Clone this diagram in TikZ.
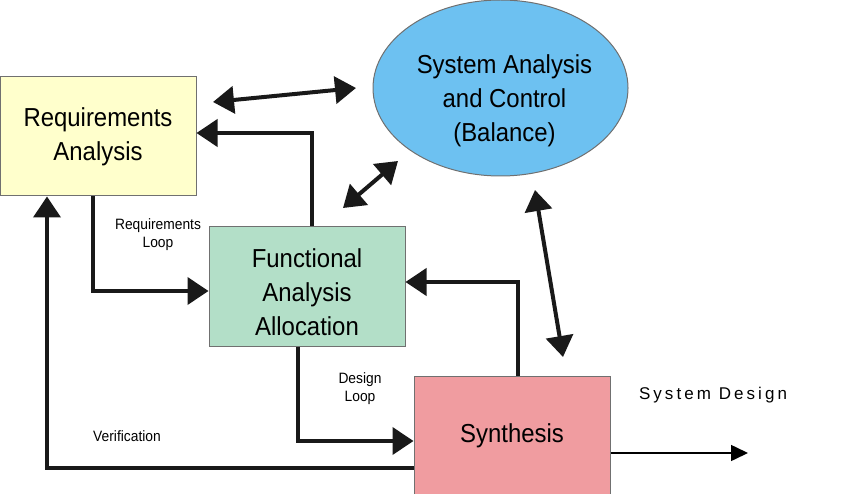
\documentclass[tikz,border=0pt]{standalone}
\usepackage{fontspec}
\setmainfont{Liberation Sans}[FakeStretch=0.92]
\newfontfamily\sdfont{Liberation Sans}[LetterSpace=18]
\usetikzlibrary{arrows.meta,shapes.geometric}

\definecolor{reqcol}{HTML}{FFFFCC}
\definecolor{facol}{HTML}{B3DFC8}
\definecolor{sycol}{HTML}{F09CA0}
\definecolor{sacol}{HTML}{6DC1F1}
\definecolor{edgecol}{HTML}{707070}

\tikzset{
    box/.style={rectangle, draw=edgecol, line width=1pt, minimum width=196pt, minimum height=120pt, inner sep=0pt},
    bigtext/.style={align=center, font=\fontsize{26}{34}\selectfont},
    smalltext/.style={align=center, font=\fontsize{15}{18}\selectfont},
    flow/.style={line width=4pt, color=black!90, -{Triangle[length=21pt, width=27pt]}},
    dbl/.style={line width=4pt, color=black!90, {Triangle[length=21pt, width=27pt]}-{Triangle[length=21pt, width=27pt]}},
    outflow/.style={line width=1.5pt, -{Triangle[length=17pt, width=16pt]}}
}

\begin{document}
\begin{tikzpicture}[x=1pt, y=-1pt]

            \useasboundingbox (0,0) rectangle (850,494);

            % Define the four blocks of the loop
            \node[box, fill=reqcol, minimum height=119pt, bigtext] (req) at (98,136.5) {Requirements\\Analysis};
            \node[box, fill=facol] (func) at (307,286) {};
            \node[bigtext] (functext) at (307,292) {Functional\\Analysis\\Allocation};
            \node[box, fill=sycol, bigtext] (synth) at (512,436) {Synthesis};

            \node[ellipse, draw=edgecol, line width=1pt, fill=sacol, minimum width=255pt, minimum height=176pt] (sac) at (500.5,88) {};
            \node[bigtext] (sactext) at (504.5,101) {System Analysis\\and Control\\(Balance)};

            % Free ends of the balance arrows
            \coordinate (ra1) at (213,102);
            \coordinate (ra2) at (356,88);
            \coordinate (fa1) at (343,208);
            \coordinate (fa2) at (398,161);
            \coordinate (sa1) at (535,190);
            \coordinate (sa2) at (563,357);
            \coordinate (out) at (748,453);

    % Draw the loops between the blocks
    \draw[flow] (req.south -| 93,0) |- (func.west |- 0,291);
    \draw[flow] (func.north -| 312,0) |- (req.east |- 0,133);
    \draw[flow] (func.south -| 298,0) |- (synth.west |- 0,441);
    \draw[flow] (synth.north -| 518,0) |- (func.east |- 0,282);
    \draw[flow] (synth.west |- 0,468) -| (req.south -| 47,0);

    % Draw the balance arrows to the ellipse
    \draw[dbl] (ra1) -- (ra2);
    \draw[dbl] (fa1) -- (fa2);
    \draw[dbl] (sa1) -- (sa2);

    \draw[outflow] (synth.east |- out) -- (out);

    % Loop labels
    \node[smalltext] (reqloop) at (158,235) {Requirements\\Loop};
    \node[smalltext] (desloop) at (360,389) {Design\\Loop};
    \node[smalltext] (verif) at (127,436) {Verification};
    \node[font=\fontsize{17}{20}\sdfont] (sysdes) at (713,395) {System Design};

        \end{tikzpicture}
\end{document}
